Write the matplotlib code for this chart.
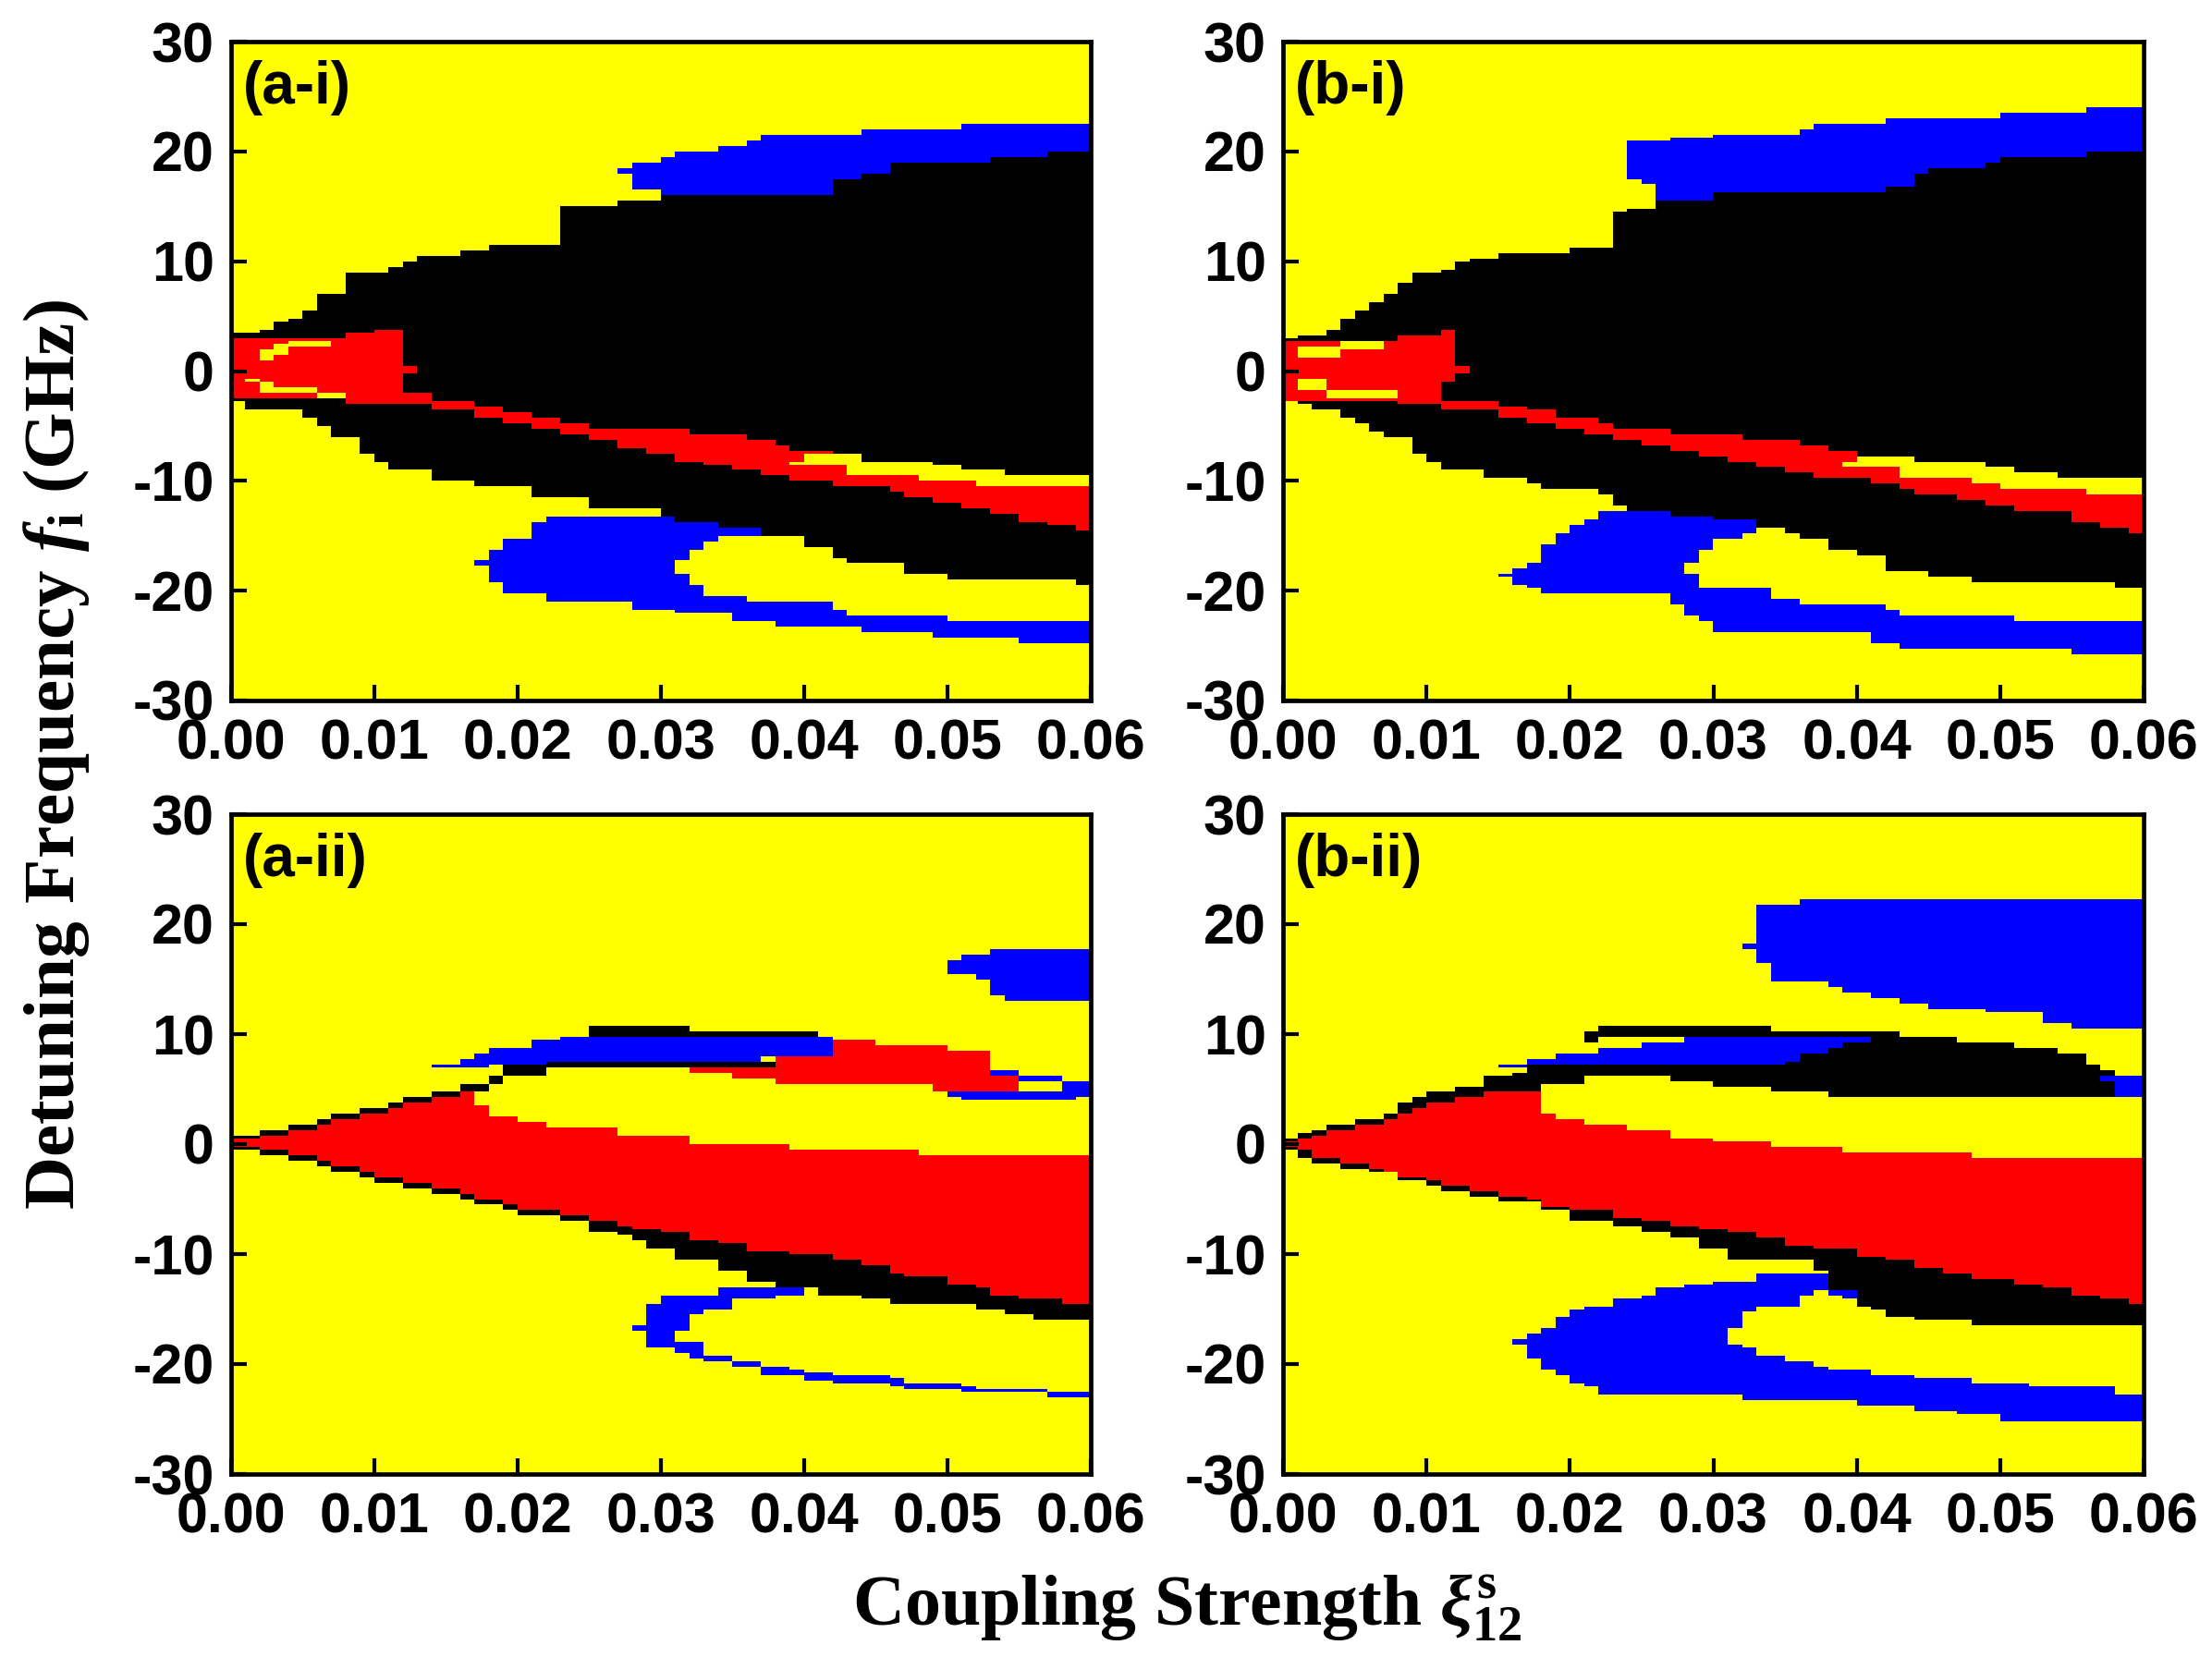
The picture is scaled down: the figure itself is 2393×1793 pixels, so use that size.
import numpy as np
import matplotlib
matplotlib.use("Agg")
import matplotlib.pyplot as plt
from matplotlib.colors import ListedColormap

# ------------------------------------------------------------------
# Axes / categories
# ------------------------------------------------------------------
X_TICKS = [0.00, 0.01, 0.02, 0.03, 0.04, 0.05, 0.06]
Y_TICKS = [-30, -20, -10, 0, 10, 20, 30]
X_RANGE = (0.0, 0.06)
Y_RANGE = (-30.0, 30.0)
X_STEP = 0.001      # map resolution in coupling strength
Y_STEP = 0.25       # map resolution in GHz
STATE_COLORS = ["#FFFF00", "#000000", "#FF0000", "#0000FF"]   # yellow, black, red, blue
PANEL_LABELS = ["(a-i)", "(b-i)", "(a-ii)", "(b-ii)"]
YEL, BLK, RED, BLU = 0, 1, 2, 3

# ------------------------------------------------------------------
# Region boundaries: lists of (xi_start, f_GHz) steps
# ------------------------------------------------------------------
# ---- (a-i)
A1_LOOP_HI = [(0.017, -17.2), (0.018, -16.2), (0.019, -15.2), (0.021, -13.7), (0.022, -13.2)]
A1_LOOP_LO = [(0.017, -17.7), (0.018, -19.2), (0.019, -20.2), (0.022, -21.1), (0.028, -21.7),
              (0.031, -22.1), (0.035, -22.7), (0.038, -23.2), (0.044, -23.7), (0.049, -24.2), (0.055, -24.7)]
A1_HOLE_HI = [(0.031, -17.2), (0.032, -16.2), (0.033, -15.6), (0.034, -15.1), (0.037, -13.0)]
A1_HOLE_LO = [(0.031, -18.6), (0.032, -19.4), (0.033, -20.5), (0.036, -21.1), (0.042, -21.7),
              (0.043, -22.3), (0.050, -22.7)]
A1_BLACK_HI = [(0.000, 3.4), (0.002, 3.8), (0.003, 4.4), (0.004, 4.8), (0.005, 5.6), (0.006, 7.0),
               (0.008, 9.0), (0.011, 9.5), (0.012, 10.1), (0.013, 10.5), (0.016, 11.0), (0.018, 11.5),
               (0.023, 15.0), (0.027, 15.4), (0.030, 16.0), (0.042, 17.4), (0.044, 17.9), (0.046, 19.0),
               (0.053, 19.5), (0.057, 20.0)]
A1_BLACK_LO = [(0.000, -2.65), (0.001, -3.6), (0.005, -4.2), (0.006, -5.1), (0.007, -6.1), (0.009, -7.6),
               (0.010, -8.2), (0.011, -9.1), (0.014, -10.05), (0.017, -10.6), (0.021, -11.6), (0.025, -12.6),
               (0.030, -13.3), (0.031, -13.7), (0.034, -14.3), (0.037, -15.1), (0.040, -16.0), (0.042, -17.0),
               (0.043, -17.6), (0.047, -18.6), (0.050, -19.1), (0.059, -19.6)]
A1_RED_HI = [(0.008, -2.1), (0.014, -2.65), (0.017, -3.2), (0.019, -3.7), (0.021, -4.2), (0.023, -4.7),
             (0.025, -5.2), (0.032, -5.7), (0.036, -6.2), (0.038, -6.7), (0.039, -7.2), (0.042, -7.6),
             (0.044, -8.2), (0.049, -8.55), (0.051, -9.1), (0.054, -9.6)]
A1_RED_LO = [(0.008, -2.9), (0.010, -3.05), (0.014, -3.6), (0.017, -4.2), (0.019, -4.7), (0.021, -5.2),
             (0.023, -5.7), (0.025, -6.2), (0.027, -7.0), (0.029, -7.6), (0.031, -8.2), (0.033, -8.6),
             (0.035, -9.1), (0.037, -9.6), (0.039, -10.1), (0.042, -10.6), (0.046, -11.1), (0.047, -11.6),
             (0.049, -12.1), (0.051, -12.6), (0.053, -13.1), (0.055, -13.7), (0.057, -14.1), (0.059, -14.6)]
A1_PATCH_HI = [(0.039, -8.2), (0.040, -7.6), (0.044, -8.2), (0.049, -8.55), (0.051, -9.1), (0.054, -9.6)]
A1_PATCH_LO = [(0.039, -8.55), (0.043, -9.6), (0.048, -10.1), (0.052, -10.5)]
A1_TONGUE_HI = [(0.000, 2.9), (0.008, 3.45), (0.010, 3.8)]
A1_TONGUE_LO = [(0.000, -2.45)]
A1_TIP_HI = [(0.012, 0.4)]
A1_TIP_LO = [(0.012, -0.2)]
A1_SLIV_UP_HI = [(0.002, 1.9), (0.003, 2.5), (0.004, 2.7)]
A1_SLIV_UP_LO = [(0.002, 1.1), (0.003, 1.5), (0.004, 2.3)]
A1_SLIV_DN_HI = [(0.001, -0.7), (0.002, -1.1), (0.003, -1.5), (0.006, -2.1)]
A1_SLIV_DN_LO = [(0.001, -1.1), (0.002, -2.1), (0.006, -2.45)]
A1_CAP_HI = [(0.027, 18.5), (0.028, 19.0), (0.030, 19.5), (0.031, 20.0), (0.034, 20.4), (0.036, 21.0),
             (0.037, 21.5), (0.044, 22.0), (0.051, 22.4)]
A1_CAP_LO = [(0.027, 18.0), (0.028, 16.5), (0.030, 16.0), (0.042, 17.4), (0.044, 17.9), (0.046, 19.0),
             (0.053, 19.5), (0.057, 20.0)]

# ---- (b-i)
B1_LOOP_HI = [(0.015, -18.4), (0.016, -18.0), (0.017, -17.4), (0.018, -15.8), (0.019, -14.8),
              (0.020, -13.9), (0.021, -13.5), (0.022, -12.7)]
B1_LOOP_LO = [(0.015, -18.8), (0.016, -19.4), (0.017, -19.8), (0.018, -20.2), (0.027, -21.3), (0.028, -22.3),
              (0.029, -22.7), (0.030, -23.8), (0.041, -24.7), (0.043, -25.3), (0.055, -25.7)]
B1_HOLE_HI = [(0.028, -17.4), (0.029, -16.2), (0.030, -15.2), (0.032, -14.8), (0.033, -13.0)]
B1_HOLE_LO = [(0.028, -18.4), (0.029, -19.8), (0.034, -20.7), (0.036, -21.3), (0.042, -21.7),
              (0.043, -22.3), (0.051, -22.8)]
B1_BLACK_HI = [(0.000, 2.9), (0.001, 3.2), (0.003, 3.8), (0.004, 4.8), (0.005, 5.4), (0.006, 6.3),
               (0.007, 6.9), (0.008, 7.9), (0.009, 9.0), (0.011, 9.35), (0.012, 9.9), (0.013, 10.3),
               (0.015, 10.8), (0.020, 11.3), (0.023, 14.4), (0.024, 14.85), (0.026, 15.5), (0.030, 16.2),
               (0.042, 16.8), (0.044, 17.9), (0.045, 18.4), (0.049, 18.9), (0.050, 19.4), (0.056, 19.9)]
B1_BLACK_LO = [(0.000, -2.65), (0.001, -3.0), (0.002, -3.6), (0.004, -4.2), (0.005, -4.7), (0.006, -5.6),
               (0.007, -6.1), (0.009, -7.6), (0.010, -8.2), (0.011, -9.1), (0.014, -9.7), (0.017, -10.3),
               (0.018, -10.7), (0.022, -11.3), (0.023, -12.3), (0.024, -12.7), (0.027, -13.3), (0.030, -13.5),
               (0.033, -14.3), (0.035, -14.7), (0.036, -15.2), (0.038, -16.2), (0.040, -16.8), (0.042, -18.2),
               (0.045, -18.8), (0.048, -19.3), (0.058, -19.8)]
B1_RED_HI = [(0.008, -2.2), (0.011, -2.65), (0.015, -3.15), (0.017, -3.6), (0.019, -4.2), (0.022, -4.7),
             (0.023, -5.2), (0.027, -5.7), (0.032, -6.3), (0.036, -6.8), (0.038, -7.25), (0.040, -7.7),
             (0.044, -8.2), (0.049, -8.7), (0.051, -9.3), (0.054, -9.7)]
B1_RED_LO = [(0.008, -2.9), (0.011, -3.6), (0.015, -4.2), (0.017, -4.7), (0.019, -5.2), (0.021, -5.7),
             (0.023, -6.2), (0.025, -6.8), (0.027, -7.25), (0.029, -7.8), (0.031, -8.2), (0.033, -8.7),
             (0.035, -9.25), (0.037, -9.7), (0.041, -10.2), (0.043, -10.7), (0.044, -11.2), (0.047, -11.7),
             (0.049, -12.2), (0.051, -12.7), (0.055, -13.7), (0.057, -14.3), (0.059, -14.7)]
B1_PATCH_HI = [(0.039, -8.2), (0.040, -7.7), (0.044, -8.2), (0.049, -8.7), (0.051, -9.3), (0.054, -9.7)]
B1_PATCH_LO = [(0.039, -8.7), (0.043, -9.7), (0.048, -10.2), (0.050, -10.7), (0.056, -11.2)]
B1_TONGUE_HI = [(0.000, 2.7), (0.008, 3.2), (0.011, 3.7)]
B1_TONGUE_LO = [(0.000, -2.65), (0.011, -1.1)]
B1_TIP_HI = [(0.012, 0.4)]
B1_TIP_LO = [(0.012, -0.2)]
B1_SLIV_UP_HI = [(0.001, 2.3), (0.004, 2.7)]
B1_SLIV_UP_LO = [(0.001, 1.3), (0.004, 1.9)]
B1_SLIV_DN_HI = [(0.001, -0.7), (0.003, -1.7)]
B1_SLIV_DN_LO = [(0.001, -1.7), (0.003, -2.4)]
B1_CAP_HI = [(0.024, 21.0), (0.027, 21.3), (0.030, 21.5), (0.036, 21.9), (0.037, 22.4), (0.042, 22.9),
             (0.050, 23.4), (0.056, 23.9)]
B1_CAP_LO = [(0.024, 17.4), (0.025, 16.9), (0.026, 15.5), (0.030, 16.2), (0.042, 16.8), (0.044, 17.9),
             (0.045, 18.4), (0.049, 18.9), (0.050, 19.4), (0.056, 19.9)]

# ---- (a-ii)
A2_LOOP_HI = [(0.028, -16.6), (0.029, -14.6), (0.030, -13.7), (0.034, -13.1)]
A2_LOOP_LO = [(0.028, -17.0), (0.029, -18.6), (0.031, -18.9), (0.032, -19.4), (0.033, -19.8), (0.035, -20.35),
              (0.037, -20.9), (0.039, -21.1), (0.040, -21.5), (0.042, -21.65), (0.046, -22.1), (0.047, -22.2),
              (0.051, -22.5), (0.052, -22.6), (0.057, -23.1)]
A2_HOLE_HI = [(0.031, -17.0), (0.032, -15.6), (0.033, -15.0), (0.035, -14.1), (0.038, -13.7), (0.040, -13.0)]
A2_HOLE_LO = [(0.031, -18.1), (0.033, -19.2), (0.035, -19.8), (0.037, -20.2), (0.039, -20.6), (0.040, -20.7),
              (0.042, -21.1), (0.046, -21.3), (0.047, -21.7), (0.051, -21.9), (0.052, -22.2), (0.057, -22.4),
              (0.058, -22.6)]
A2_BLK_HI = [(0.000, 0.8), (0.002, 1.3), (0.004, 1.8), (0.006, 2.3), (0.007, 2.75), (0.009, 3.3),
             (0.011, 3.8), (0.012, 4.25), (0.014, 4.7), (0.016, 5.2), (0.017, -4.0)]
A2_BLK_LO = [(0.000, -0.6), (0.002, -1.1), (0.004, -1.6), (0.006, -2.05), (0.007, -2.55), (0.009, -2.9),
             (0.010, -3.5), (0.012, -4.0), (0.014, -4.6), (0.016, -5.0), (0.017, -5.6), (0.019, -6.1),
             (0.020, -6.6), (0.023, -7.1), (0.025, -7.95), (0.027, -8.35), (0.028, -8.75), (0.029, -9.5),
             (0.031, -10.5), (0.034, -11.5), (0.036, -12.6), (0.038, -13.1), (0.041, -13.7), (0.044, -14.1),
             (0.046, -14.6), (0.052, -15.0), (0.054, -15.6), (0.056, -16.0)]
A2_RED_HI = [(0.000, 0.5), (0.002, 0.8), (0.004, 1.3), (0.006, 1.8), (0.007, 2.3), (0.009, 2.75),
             (0.011, 3.3), (0.012, 3.8), (0.014, 4.25), (0.016, 4.7), (0.017, 3.5), (0.018, 2.4),
             (0.020, 1.9), (0.022, 1.4), (0.027, 0.8), (0.032, -0.1), (0.039, -0.6), (0.048, -1.1)]
A2_RED_LO = [(0.000, -0.3), (0.002, -0.6), (0.004, -1.1), (0.006, -1.6), (0.007, -2.05), (0.009, -2.55),
             (0.010, -2.9), (0.012, -3.5), (0.014, -4.0), (0.016, -4.6), (0.017, -5.0), (0.019, -5.6),
             (0.020, -6.1), (0.023, -6.6), (0.025, -7.1), (0.027, -7.5), (0.028, -7.8), (0.030, -8.1),
             (0.032, -8.7), (0.034, -9.1), (0.036, -9.7), (0.039, -10.1), (0.042, -10.5), (0.044, -11.1),
             (0.046, -11.7), (0.047, -12.1), (0.050, -12.7), (0.052, -13.1), (0.053, -13.7), (0.055, -14.1),
             (0.058, -14.6)]
A2_LINE_HI = [(0.016, 5.4), (0.018, 6.3), (0.019, 7.2), (0.022, 7.4)]
A2_LINE_LO = [(0.016, 4.8), (0.018, 5.4), (0.019, 6.3), (0.022, 6.9)]
A2_BAR_HI = [(0.025, 10.8), (0.032, 10.3)]
A2_BAR_LO = [(0.025, 9.8)]
A2_BAND_HI = [(0.014, 7.3), (0.016, 7.8), (0.017, 8.3), (0.018, 8.8), (0.021, 9.4), (0.023, 9.8)]
A2_BAND_LO = [(0.014, 6.9), (0.018, 7.2), (0.022, 7.4), (0.037, 8.1)]
A2_RED2_HI = [(0.032, 6.9), (0.038, 8.1), (0.042, 9.6), (0.045, 9.1), (0.050, 8.6), (0.053, 6.2)]
A2_RED2_LO = [(0.032, 6.4), (0.035, 5.9), (0.038, 5.4), (0.049, 4.8)]
A2_BITS_UP_HI = [(0.052, 6.8), (0.055, 6.3), (0.058, 5.8)]
A2_BITS_UP_LO = [(0.052, 6.3), (0.055, 5.8), (0.058, 4.5)]
A2_BITS_DN_HI = [(0.050, 4.8)]
A2_BITS_DN_LO = [(0.050, 4.3), (0.051, 3.9), (0.059, 4.3)]
A2_CAP_HI = [(0.050, 16.8), (0.051, 17.3), (0.053, 17.8)]
A2_CAP_LO = [(0.050, 15.5), (0.052, 15.0), (0.053, 13.4), (0.054, 12.9)]

# ---- (b-ii)
B2_LOOP_HI = [(0.016, -17.8), (0.017, -17.2), (0.018, -16.8), (0.019, -15.7), (0.020, -15.1), (0.021, -14.7),
              (0.023, -14.1), (0.025, -13.7), (0.026, -13.1), (0.028, -12.7), (0.030, -12.5), (0.033, -11.75)]
B2_LOOP_LO = [(0.016, -18.2), (0.017, -19.6), (0.018, -20.5), (0.019, -21.1), (0.020, -21.7), (0.021, -22.1),
              (0.022, -22.7), (0.032, -23.2), (0.040, -23.7), (0.044, -24.2), (0.047, -24.6), (0.050, -25.2)]
B2_HOLE_HI = [(0.031, -16.8), (0.032, -15.3), (0.033, -14.7), (0.036, -13.7), (0.037, -13.3), (0.038, -13.7),
              (0.039, -14.1), (0.040, -13.0)]
B2_HOLE_LO = [(0.031, -18.2), (0.032, -18.6), (0.033, -19.2), (0.035, -19.8), (0.037, -20.2), (0.038, -20.5),
              (0.041, -21.1), (0.044, -21.3), (0.048, -21.7), (0.052, -22.1), (0.058, -22.7)]
B2_BLK_HI = [(0.000, 0.6), (0.001, 1.0), (0.002, 1.3), (0.003, 1.7), (0.005, 2.2), (0.007, 2.7),
             (0.008, 3.75), (0.009, 4.25), (0.010, 4.85), (0.012, 5.3), (0.014, 6.2), (0.016, -4.0)]
B2_BLK_LO = [(0.000, -0.6), (0.001, -1.2), (0.002, -1.7), (0.004, -2.2), (0.006, -2.6), (0.008, -3.2),
             (0.010, -3.75), (0.011, -4.25), (0.013, -4.7), (0.015, -5.2), (0.018, -6.1), (0.020, -7.1),
             (0.023, -7.5), (0.025, -8.05), (0.027, -8.6), (0.029, -9.6), (0.031, -10.6), (0.037, -11.6),
             (0.038, -13.3), (0.040, -14.7), (0.041, -15.1), (0.042, -15.7), (0.044, -16.1), (0.048, -16.6)]
B2_RED_HI = [(0.000, 0.3), (0.001, 0.5), (0.002, 0.74), (0.003, 1.3), (0.005, 1.7), (0.007, 2.2),
             (0.008, 2.7), (0.009, 3.3), (0.010, 3.7), (0.012, 4.25), (0.014, 4.85), (0.018, 2.7),
             (0.019, 2.2), (0.021, 1.7), (0.024, 1.25), (0.027, 0.6), (0.030, 0.2), (0.034, -0.25),
             (0.039, -0.75), (0.048, -1.2)]
B2_RED_LO = [(0.000, -0.3), (0.001, -0.6), (0.002, -1.2), (0.004, -1.7), (0.006, -2.2), (0.007, -2.6),
             (0.008, -3.05), (0.010, -3.3), (0.011, -3.75), (0.013, -4.25), (0.015, -4.7), (0.017, -5.0),
             (0.018, -5.7), (0.020, -6.1), (0.023, -6.7), (0.025, -7.1), (0.027, -7.5), (0.029, -7.65),
             (0.031, -8.05), (0.033, -8.6), (0.035, -9.2), (0.037, -9.6), (0.040, -10.2), (0.042, -10.6),
             (0.044, -11.2), (0.046, -11.75), (0.048, -12.15), (0.051, -12.65), (0.053, -13.1), (0.055, -13.7),
             (0.057, -14.1), (0.059, -14.6)]
B2_EYE_HI = [(0.016, 6.6), (0.017, 7.3), (0.035, 7.6), (0.036, 8.2), (0.038, 8.75), (0.039, 9.3),
             (0.041, 9.7), (0.047, 9.3), (0.051, 8.75), (0.054, 8.2), (0.056, 7.3), (0.057, 6.8)]
B2_EYE_LO = [(0.016, 4.85), (0.018, 5.6), (0.021, 6.3), (0.027, 5.8), (0.030, 5.3), (0.034, 4.8), (0.038, 4.3)]
B2_BAR_HI = [(0.021, 10.3), (0.022, 10.7), (0.034, 10.3)]
B2_BAR_LO = [(0.021, 9.3), (0.022, 9.7)]
B2_BAND_HI = [(0.015, 7.3), (0.017, 7.7), (0.019, 8.2), (0.022, 8.75), (0.025, 9.3), (0.028, 9.7)]
B2_BAND_LO = [(0.015, 6.9), (0.017, 7.3), (0.035, 7.6), (0.036, 8.2), (0.038, 8.75), (0.039, 9.3)]
B2_RBIT_HI = [(0.057, 6.2)]
B2_RBIT_LO = [(0.057, 5.8), (0.058, 4.3)]
B2_CAP_HI = [(0.032, 18.2), (0.033, 21.7), (0.036, 22.3)]
B2_CAP_LO = [(0.032, 17.8), (0.033, 16.4), (0.034, 14.8), (0.038, 14.2), (0.039, 13.75), (0.041, 13.2),
             (0.043, 12.7), (0.045, 12.3), (0.049, 11.9), (0.053, 10.9), (0.055, 10.4)]

# painting order for each panel: (state, lower boundary, upper boundary, xi_end)
LAYERS = {
    "(a-i)": [(BLU, A1_LOOP_LO, A1_LOOP_HI, 0.060), (YEL, A1_HOLE_LO, A1_HOLE_HI, 0.060),
              (BLK, A1_BLACK_LO, A1_BLACK_HI, 0.060), (RED, A1_RED_LO, A1_RED_HI, 0.060),
              (YEL, A1_PATCH_LO, A1_PATCH_HI, 0.060), (RED, A1_TONGUE_LO, A1_TONGUE_HI, 0.012),
              (RED, A1_TIP_LO, A1_TIP_HI, 0.013), (YEL, A1_SLIV_UP_LO, A1_SLIV_UP_HI, 0.007),
              (YEL, A1_SLIV_DN_LO, A1_SLIV_DN_HI, 0.008), (BLU, A1_CAP_LO, A1_CAP_HI, 0.060)],
    "(b-i)": [(BLU, B1_LOOP_LO, B1_LOOP_HI, 0.060), (YEL, B1_HOLE_LO, B1_HOLE_HI, 0.060),
              (BLK, B1_BLACK_LO, B1_BLACK_HI, 0.060), (RED, B1_RED_LO, B1_RED_HI, 0.060),
              (YEL, B1_PATCH_LO, B1_PATCH_HI, 0.060), (RED, B1_TONGUE_LO, B1_TONGUE_HI, 0.012),
              (RED, B1_TIP_LO, B1_TIP_HI, 0.013), (YEL, B1_SLIV_UP_LO, B1_SLIV_UP_HI, 0.007),
              (YEL, B1_SLIV_DN_LO, B1_SLIV_DN_HI, 0.008), (BLU, B1_CAP_LO, B1_CAP_HI, 0.060)],
    "(a-ii)": [(BLU, A2_LOOP_LO, A2_LOOP_HI, 0.060), (YEL, A2_HOLE_LO, A2_HOLE_HI, 0.060),
               (BLK, A2_BLK_LO, A2_BLK_HI, 0.060), (RED, A2_RED_LO, A2_RED_HI, 0.060),
               (BLK, A2_LINE_LO, A2_LINE_HI, 0.039), (BLK, A2_BAR_LO, A2_BAR_HI, 0.041),
               (BLU, A2_BAND_LO, A2_BAND_HI, 0.042), (BLU, A2_BITS_UP_LO, A2_BITS_UP_HI, 0.060),
               (BLU, A2_BITS_DN_LO, A2_BITS_DN_HI, 0.060), (RED, A2_RED2_LO, A2_RED2_HI, 0.055),
               (BLU, A2_CAP_LO, A2_CAP_HI, 0.060)],
    "(b-ii)": [(BLU, B2_LOOP_LO, B2_LOOP_HI, 0.060), (YEL, B2_HOLE_LO, B2_HOLE_HI, 0.060),
               (BLK, B2_BLK_LO, B2_BLK_HI, 0.060), (RED, B2_RED_LO, B2_RED_HI, 0.060),
               (BLK, B2_EYE_LO, B2_EYE_HI, 0.058), (BLK, B2_BAR_LO, B2_BAR_HI, 0.043),
               (BLU, B2_BAND_LO, B2_BAND_HI, 0.041), (BLU, B2_RBIT_LO, B2_RBIT_HI, 0.060),
               (BLU, B2_CAP_LO, B2_CAP_HI, 0.060)],
}


def step_eval(steps, xc):
    bx = np.array([s[0] for s in steps], dtype=float)
    by = np.array([s[1] for s in steps], dtype=float)
    idx = np.searchsorted(bx, xc, side="right") - 1
    out = np.full(xc.shape, np.nan)
    ok = idx >= 0
    out[ok] = by[idx[ok]]
    return out


def build_map(layers):
    nx = int(round((X_RANGE[1] - X_RANGE[0]) / X_STEP))
    ny = int(round((Y_RANGE[1] - Y_RANGE[0]) / Y_STEP))
    xc = X_RANGE[0] + (np.arange(nx) + 0.5) * X_STEP
    yc = Y_RANGE[0] + (np.arange(ny) + 0.5) * Y_STEP
    Z = np.full((ny, nx), YEL, dtype=int)
    for state, lo, hi, xend in layers:
        start = max(lo[0][0], hi[0][0])
        lo_v = step_eval(lo, xc)
        hi_v = step_eval(hi, xc)
        valid = (xc >= start - 1e-9) & (xc < xend)
        with np.errstate(invalid="ignore"):
            m = valid[None, :] & (yc[:, None] >= lo_v[None, :]) & (yc[:, None] < hi_v[None, :])
        Z[m] = state
    return Z


# ------------------------------------------------------------------
# Figure
# ------------------------------------------------------------------
plt.rcParams["font.family"] = ["Liberation Sans", "DejaVu Sans"]
plt.rcParams["font.weight"] = "bold"
plt.rcParams["axes.unicode_minus"] = False
plt.rcParams["mathtext.fontset"] = "custom"
plt.rcParams["mathtext.rm"] = "Liberation Serif:bold"
plt.rcParams["mathtext.it"] = "Liberation Serif:italic:bold"
plt.rcParams["mathtext.bf"] = "Liberation Serif:bold"

W, H = 2393, 1793
fig = plt.figure(figsize=(W / 100, H / 100), dpi=100)
fig.patch.set_facecolor("white")

BOXES = {  # left, right, top, bottom in pixels
    "(a-i)": (250, 1180, 45, 758),
    "(b-i)": (1388, 2319, 45, 758),
    "(a-ii)": (250, 1180, 881, 1595),
    "(b-ii)": (1388, 2319, 881, 1595),
}
cmap = ListedColormap(STATE_COLORS)

for label in PANEL_LABELS:
    l, r, t, b = BOXES[label]
    ax = fig.add_axes([l / W, 1 - b / H, (r - l) / W, (b - t) / H])
    Z = build_map(LAYERS[label])
    ax.imshow(Z, origin="lower", extent=[X_RANGE[0], X_RANGE[1], Y_RANGE[0], Y_RANGE[1]],
              aspect="auto", interpolation="nearest", cmap=cmap, vmin=-0.5, vmax=3.5, zorder=1)
    ax.set_xlim(*X_RANGE)
    ax.set_ylim(*Y_RANGE)
    ax.set_xticks(X_TICKS)
    ax.set_xticklabels([f"{v:.2f}" for v in X_TICKS])
    ax.set_yticks(Y_TICKS)
    ax.set_yticklabels([str(v) for v in Y_TICKS])
    ax.tick_params(axis="both", direction="in", length=12, width=3, top=False, right=False,
                   labelsize=44, colors="black")
    ax.tick_params(axis="x", pad=14)
    ax.tick_params(axis="y", pad=13)
    for lbl in ax.get_xticklabels() + ax.get_yticklabels():
        lbl.set_fontweight("bold")
    for sp in ax.spines.values():
        sp.set_linewidth(3.4)
        sp.set_color("black")
        sp.set_zorder(5)
    ax.text(0.014, 0.972, label, transform=ax.transAxes, ha="left", va="top",
            fontsize=46, fontweight="bold", color="black", zorder=6)

fig.text(61 / W, 1 - 817 / H, r"Detuning Frequency $\mathit{f}_{\mathrm{i}}$ (GHz)",
         rotation=90, ha="center", va="center", fontsize=57,
         family=["Liberation Serif", "DejaVu Serif"], fontweight="bold")
fig.text(1284 / W, 1 - 1740 / H, r"Coupling Strength $\xi^{\mathrm{s}}_{\mathrm{12}}$",
         ha="center", va="center", fontsize=56,
         family=["Liberation Serif", "DejaVu Serif"], fontweight="bold")

fig.savefig("out.png", dpi=100, facecolor="white")
